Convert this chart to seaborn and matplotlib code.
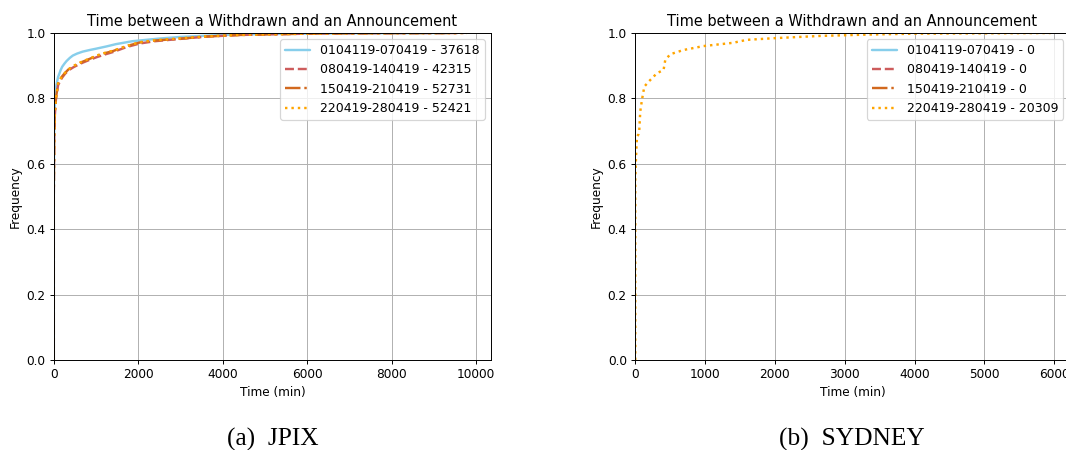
import matplotlib
matplotlib.use("Agg")
import matplotlib.pyplot as plt
import seaborn as sns
import pandas as pd

# ---------------- data ----------------
title = "Time between a Withdrawn and an Announcement"
periods = ["0104119-070419", "080419-140419", "150419-210419", "220419-280419"]
jpix_counts = [37618, 42315, 52731, 52421]
sydney_counts = [0, 0, 0, 20309]

# JPIX (a) CDF points
jpix_t1 = [0, 0, 10, 30, 60, 100, 130, 160, 200, 250, 300, 380, 450, 550, 683, 850, 1000, 1250, 1473, 1867, 2500, 3000, 3500, 4000, 5000, 6000, 7000, 8000, 9300]
jpix_c1 = [0, 0.50, 0.72, 0.80, 0.84, 0.865, 0.875, 0.886, 0.897, 0.906, 0.914, 0.924, 0.931, 0.937, 0.943, 0.948, 0.952, 0.959, 0.966, 0.975, 0.983, 0.988, 0.991, 0.994, 0.997, 0.998, 0.999, 0.9995, 1.0]

jpix_t2 = [0, 0, 10, 25, 52, 100, 146, 200, 265, 350, 461, 580, 697, 850, 1014, 1200, 1407, 1723, 2038, 2400, 2823, 3615, 4400, 5200, 6000, 7000, 8000, 9700]
jpix_c2 = [0, 0.50, 0.68, 0.75, 0.80, 0.84, 0.852, 0.864, 0.875, 0.886, 0.895, 0.903, 0.910, 0.918, 0.926, 0.934, 0.942, 0.957, 0.968, 0.975, 0.980, 0.989, 0.994, 0.996, 0.998, 0.999, 0.9995, 1.0]

jpix_t3 = [0, 0, 10, 25, 50, 100, 146, 200, 265, 350, 461, 580, 697, 850, 1014, 1200, 1407, 1723, 2038, 2400, 2823, 3615, 4400, 5200, 6000, 7000, 8000, 9600]
jpix_c3 = [0, 0.52, 0.69, 0.76, 0.80, 0.845, 0.858, 0.868, 0.878, 0.889, 0.898, 0.906, 0.913, 0.921, 0.930, 0.938, 0.945, 0.960, 0.971, 0.977, 0.981, 0.989, 0.994, 0.996, 0.998, 0.999, 0.9995, 1.0]

jpix_t4 = [0, 0, 10, 25, 50, 100, 146, 200, 265, 350, 461, 580, 697, 850, 1014, 1200, 1407, 1723, 2038, 2400, 2823, 3615, 4400, 5200, 6000, 7000, 8000, 9780]
jpix_c4 = [0, 0.52, 0.70, 0.76, 0.80, 0.845, 0.857, 0.868, 0.878, 0.889, 0.899, 0.907, 0.914, 0.922, 0.931, 0.939, 0.946, 0.960, 0.972, 0.978, 0.982, 0.990, 0.994, 0.996, 0.998, 0.999, 0.9995, 1.0]

# SYDNEY (b) CDF points (only the last period has data)
syd_t4 = [0, 0, 10, 24, 45, 57, 71, 95, 129, 190, 310, 405, 429, 500, 690, 976, 1400, 1595, 1976, 2643, 3300, 4000, 5000, 5950]
syd_c4 = [0, 0.55, 0.62, 0.683, 0.69, 0.703, 0.76, 0.795, 0.836, 0.851, 0.877, 0.887, 0.917, 0.935, 0.948, 0.960, 0.970, 0.979, 0.984, 0.991, 0.995, 0.998, 0.999, 1.0]

captions = ["(a)  JPIX", "(b)  SYDNEY"]

# ---------------- style ----------------
sns.set_style("ticks", {"axes.grid": True, "grid.color": "#b0b0b0",
                        "axes.edgecolor": "black", "text.color": "black",
                        "xtick.color": "black", "ytick.color": "black",
                        "axes.labelcolor": "black"})
plt.rcParams["font.family"] = ["DejaVu Sans"]
plt.rcParams["font.size"] = 10
plt.rcParams["axes.titlesize"] = 12
plt.rcParams["axes.labelsize"] = 10
plt.rcParams["xtick.labelsize"] = 10
plt.rcParams["ytick.labelsize"] = 10
plt.rcParams["legend.fontsize"] = 10.3
plt.rcParams["grid.linewidth"] = 0.8
plt.rcParams["axes.linewidth"] = 0.8

colors = ["#87CEEB", "#CD5C5C", "#D2691E", "#FFA500"]
styles = ["-", "--", "-.", ":"]
lw = 2.0

DPI = 87
fig = plt.figure(figsize=(1066 / DPI, 450 / DPI), dpi=DPI)
ax1 = fig.add_axes([53.8 / 1066, 90 / 450, (491 - 53.8) / 1066, 327 / 450])
ax2 = fig.add_axes([635.3 / 1066, 90 / 450, (1069.5 - 635.3) / 1066, 327 / 450])

jpix_series = [(jpix_t1, jpix_c1), (jpix_t2, jpix_c2), (jpix_t3, jpix_c3), (jpix_t4, jpix_c4)]
for i, (t, c) in enumerate(jpix_series):
    df = pd.DataFrame({"t": t, "c": c})
    sns.lineplot(data=df, x="t", y="c", ax=ax1, color=colors[i], linestyle=styles[i],
                 lw=lw, sort=False, estimator=None,
                 label=f"{periods[i]} - {jpix_counts[i]}")

for i in range(3):
    ax2.plot([], [], color=colors[i], linestyle=styles[i], lw=lw,
             label=f"{periods[i]} - {sydney_counts[i]}")
df = pd.DataFrame({"t": syd_t4, "c": syd_c4})
sns.lineplot(data=df, x="t", y="c", ax=ax2, color=colors[3], linestyle=styles[3],
             lw=lw, sort=False, estimator=None,
             label=f"{periods[3]} - {sydney_counts[3]}")

for ax, xmax in ((ax1, 10350), (ax2, 6220)):
    ax.set_xlim(0, xmax)
    ax.set_ylim(0, 1.0)
    ax.set_title(title)
    ax.set_xlabel("Time (min)")
    ax.set_ylabel("Frequency")
    ax.grid(True, color="#b0b0b0", lw=0.8)
    for s in ax.spines.values():
        s.set_visible(True)
        s.set_color("black")
    ax.tick_params(direction="out", length=3.5, width=0.8)
    ax.legend(loc="upper right", framealpha=0.8, edgecolor="0.8", fancybox=True)

fig.text(273 / 1066, 1 - 439 / 450, captions[0], ha="center", va="center",
         family=["Liberation Serif"], fontsize=21)
fig.text(852 / 1066, 1 - 439 / 450, captions[1], ha="center", va="center",
         family=["Liberation Serif"], fontsize=21)

fig.savefig("out.png", dpi=DPI)
